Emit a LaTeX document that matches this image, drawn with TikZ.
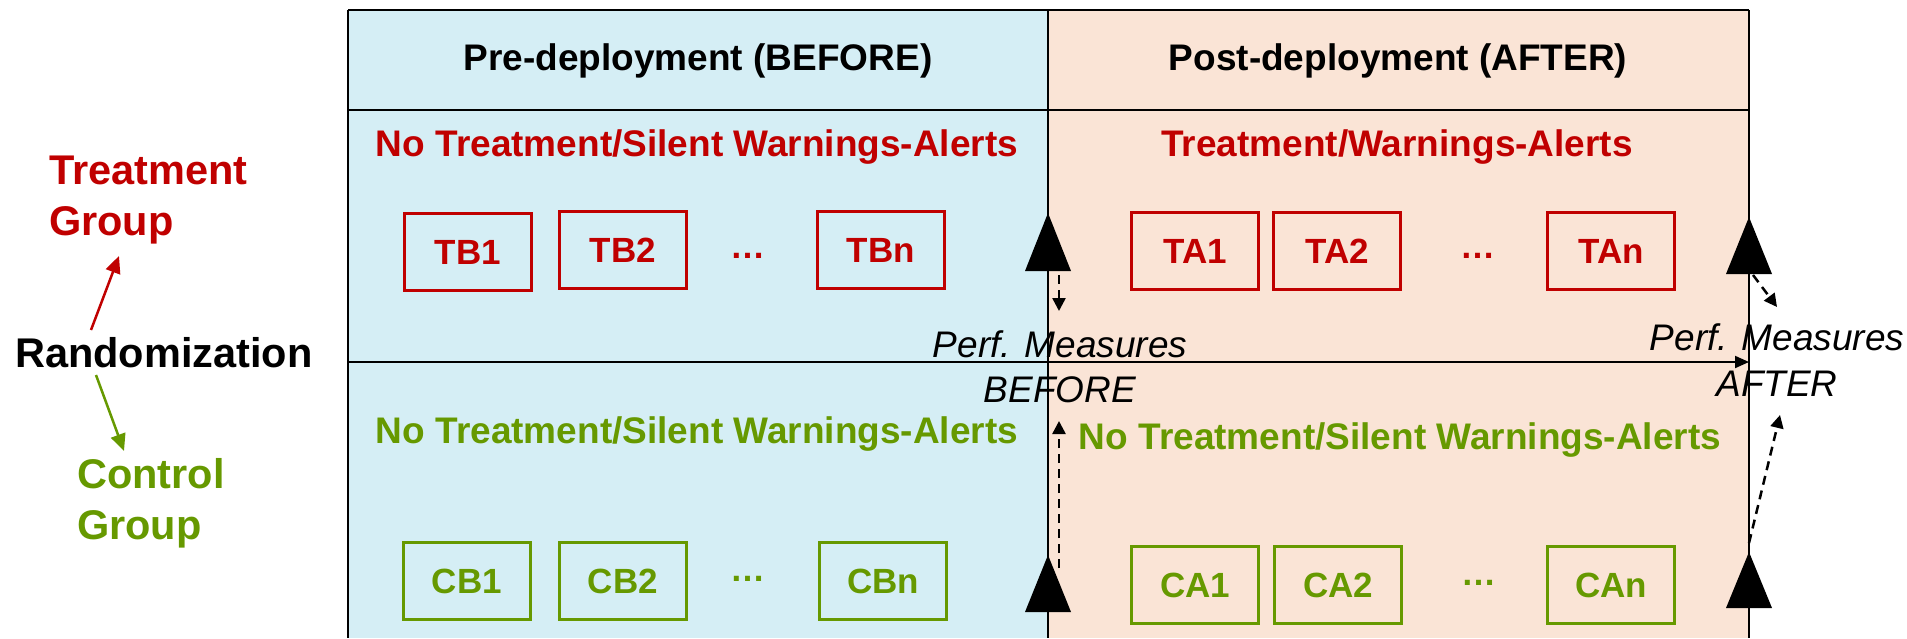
\documentclass[tikz,border=0pt]{standalone}
\usepackage{fontspec}
\setmainfont{Liberation Sans}
\usetikzlibrary{arrows.meta}
\definecolor{bluebg}{HTML}{D5EEF5}
\definecolor{peachbg}{HTML}{FAE4D6}
\definecolor{tred}{HTML}{C00000}
\definecolor{cgreen}{HTML}{669900}
\begin{document}
\begin{tikzpicture}[x=1pt,y=-1pt,
  lbl/.style={inner sep=0pt, anchor=base},
  hdr/.style={lbl, font=\fontsize{37}{44}\selectfont\bfseries},
  perf/.style={inner sep=0pt, anchor=base, font=\fontsize{37}{45}\selectfont\itshape},
  grp/.style={inner sep=0pt, anchor=north west, align=left, font=\fontsize{41.5}{51}\selectfont\bfseries},
  unitbox/.style={draw, line width=2.5pt, minimum width=127pt, minimum height=77pt, inner sep=0pt, font=\fontsize{35}{42}\selectfont\bfseries},
  tunit/.style={unitbox, draw=tred, text=tred},
  cunit/.style={unitbox, draw=cgreen, text=cgreen},
  dots/.style={inner sep=0pt, anchor=base, font=\fontsize{35}{42}\selectfont\bfseries},
  tline/.style={line width=2pt, draw=black},
  dsh/.style={line width=2.5pt, dash pattern=on 9pt off 6pt, -{Triangle[length=13pt,width=13pt]}},
  grparrow/.style={line width=2.5pt, -{Triangle[length=17pt,width=15pt]}},
  bigtri/.style={fill=black}
]
\useasboundingbox (0,0) rectangle (1907,638);
% backgrounds
\fill[bluebg] (348,10) rectangle (1048,638);
\fill[peachbg] (1048,10) rectangle (1749,638);
% table lines
\draw[tline] (348,10) -- (1749,10);
\draw[tline] (348,110) -- (1749,110);
\draw[tline] (348,10) -- (348,638);
\draw[tline] (1048,10) -- (1048,638);
\draw[tline] (1749,10) -- (1749,638);
\coordinate (ml) at (348,362);
\coordinate (mr) at (1749,362);
\draw[tline, -{Triangle[length=14pt,width=12pt]}] (ml) -- (mr);
% headers
\node[hdr] (pre) at (698,70) {Pre-deployment (BEFORE)};
\node[hdr] (post) at (1398,70) {Post-deployment (AFTER)};
% group headings
\node[hdr, text=tred] (tbh) at (697,156) {No Treatment/Silent Warnings-Alerts};
\node[hdr, text=tred] (tah) at (1397,156) {Treatment/Warnings-Alerts};
\node[hdr, text=cgreen] (cbh) at (697,443) {No Treatment/Silent Warnings-Alerts};
\node[hdr, text=cgreen] (cah) at (1400,449) {No Treatment/Silent Warnings-Alerts};
% treatment boxes
\node[tunit] (tb1) at (468,252) {TB1};
\node[tunit] (tb2) at (623,250) {TB2};
\node[dots, text=tred] (tbd) at (748,258) {…};
\node[tunit] (tbn) at (881,250) {TBn};
\node[tunit] (ta1) at (1195,251) {TA1};
\node[tunit] (ta2) at (1337,251) {TA2};
\node[dots, text=tred] (tad) at (1478,258) {…};
\node[tunit] (tan) at (1611,251) {TAn};
% control boxes
\node[cunit] (cb1) at (467,581) {CB1};
\node[cunit] (cb2) at (623,581) {CB2};
\node[dots, text=cgreen] (cbd) at (748,581) {…};
\node[cunit] (cbn) at (883,581) {CBn};
\node[cunit] (ca1) at (1195,585) {CA1};
\node[cunit] (ca2) at (1338,585) {CA2};
\node[dots, text=cgreen] (cad) at (1479,585) {…};
\node[cunit] (can) at (1611,585) {CAn};
% big triangles
\fill[bigtri] (1025,271) -- (1048,213) -- (1071,271) -- cycle;
\fill[bigtri] (1025,612) -- (1048,555) -- (1071,612) -- cycle;
\fill[bigtri] (1726,274) -- (1749,217) -- (1772,274) -- cycle;
\fill[bigtri] (1726,608) -- (1749,552) -- (1772,608) -- cycle;
% perf measures labels
\node[perf] (pb1) at (1060,357) {Perf. Measures};
\node[perf] (pb2) at (1060,402) {BEFORE};
\node[perf] (pa1) at (1777,350) {Perf. Measures};
\node[perf] (pa2) at (1777,396) {AFTER};
% dashed arrows
\coordinate (d1s) at (1059,275); \coordinate (d1e) at (1059,311);
\coordinate (d2s) at (1059,568); \coordinate (d2e) at (1059,421);
\coordinate (d3s) at (1753,275); \coordinate (d3e) at (1777,307);
\coordinate (d4s) at (1749,543); \coordinate (d4e) at (1780,415);
\draw[dsh] (d1s) -- (d1e);
\draw[dsh] (d2s) -- (d2e);
\draw[dsh] (d3s) -- (d3e);
\draw[dsh] (d4s) -- (d4e);
% left side
\node[grp, text=tred] (tg) at (49,156) {Treatment\\Group};
\node[lbl, anchor=base west, font=\fontsize{41.5}{51}\selectfont\bfseries] (rand) at (15,367) {Randomization};
\node[grp, text=cgreen] (cg) at (77,458) {Control\\Group};
\coordinate (r1s) at (91,330); \coordinate (r1e) at (119,256);
\coordinate (r2s) at (96,375); \coordinate (r2e) at (124,451);
\draw[grparrow, tred] (r1s) -- (r1e);
\draw[grparrow, cgreen] (r2s) -- (r2e);
\end{tikzpicture}
\end{document}
